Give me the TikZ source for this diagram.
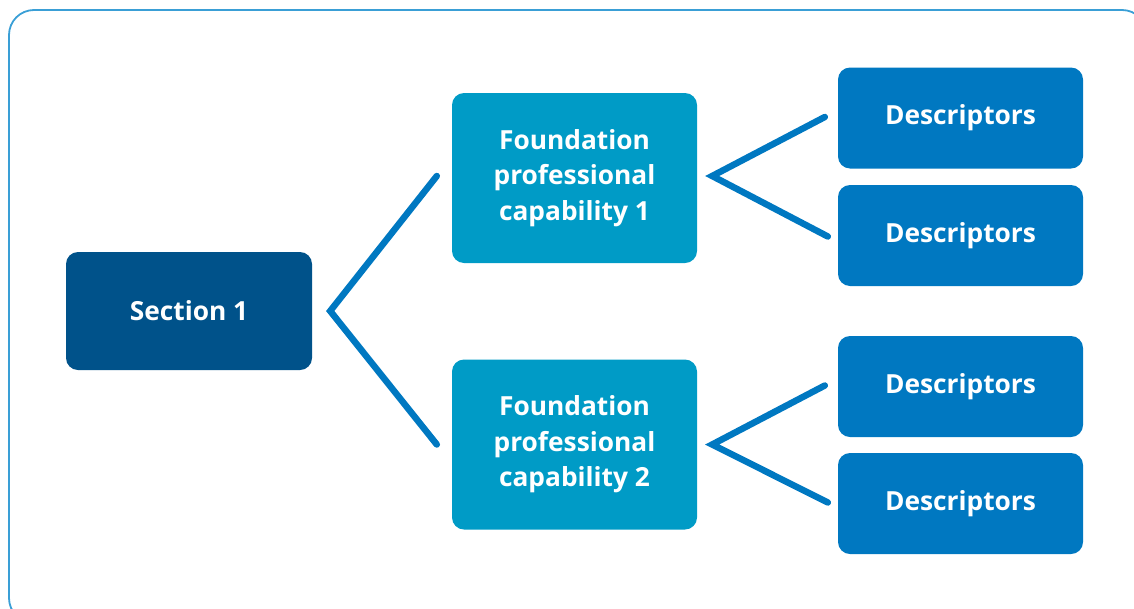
\documentclass[tikz,border=0pt]{standalone}
\usepackage{fontspec}
\setmainfont{Open Sans}
\usepackage{tikz}
\usetikzlibrary{calc}

\definecolor{framecol}{HTML}{3A9FD6}
\definecolor{sectioncol}{HTML}{00528A}
\definecolor{fpccol}{HTML}{009BC6}
\definecolor{desccol}{HTML}{0078C1}
\definecolor{linkcol}{HTML}{0078C1}

\begin{document}
\begin{tikzpicture}[x=1pt,y=-1pt,
    box/.style={rounded corners=12pt, text=white, font=\bfseries\fontsize{26.3}{35.5}\selectfont,
                align=center, inner sep=0pt},
    sectionbox/.style={box, fill=sectioncol, minimum width=246pt, minimum height=118pt},
    fpcbox/.style={box, fill=fpccol, minimum width=245pt, minimum height=170pt},
    descbox/.style={box, fill=desccol, minimum width=245pt, minimum height=101pt},
    link/.style={draw=linkcol, line width=6.5pt, line cap=round, line join=miter}]

    \useasboundingbox (0,0) rectangle (1134,608);

    % outer frame
    \draw[framecol, line width=1.8pt, rounded corners=25pt] (9,10) rectangle (1147,623);

    % section
    \node[sectionbox] (sec) at (189,311) {Section 1};

    % capabilities
    \node[fpcbox] (fpc1) at (574.5,178) {Foundation\\professional\\capability 1};
    \node[fpcbox] (fpc2) at (574.5,444.5) {Foundation\\professional\\capability 2};

    % descriptors
    \node[descbox] (d1) at (960.5,118) {Descriptors};
    \node[descbox] (d2) at (960.5,235.5) {Descriptors};
    \node[descbox] (d3) at (960.5,386.5) {Descriptors};
    \node[descbox] (d4) at (960.5,503.5) {Descriptors};

    % branch points
    \coordinate (v0) at ($(sec.east)+(18,0)$);
    \coordinate (v1) at ($(fpc1.east)+(15,-2)$);
    \coordinate (v2) at ($(fpc2.east)+(15,0)$);

    % free ends of the branches
    \coordinate (e1) at ($(fpc1.west)+(-15,-2)$);
    \coordinate (e2) at ($(fpc2.west)+(-15,0)$);
    \coordinate (e11) at ($(d1.west)+(-13,-1)$);
    \coordinate (e12) at ($(d2.west)+(-10,1)$);
    \coordinate (e21) at ($(d3.west)+(-13,-1)$);
    \coordinate (e22) at ($(d4.west)+(-10,-1)$);

    \draw[link] (e1) -- (v0) -- (e2);
    \draw[link] (e11) -- (v1) -- (e12);
    \draw[link] (e21) -- (v2) -- (e22);

\end{tikzpicture}
\end{document}
